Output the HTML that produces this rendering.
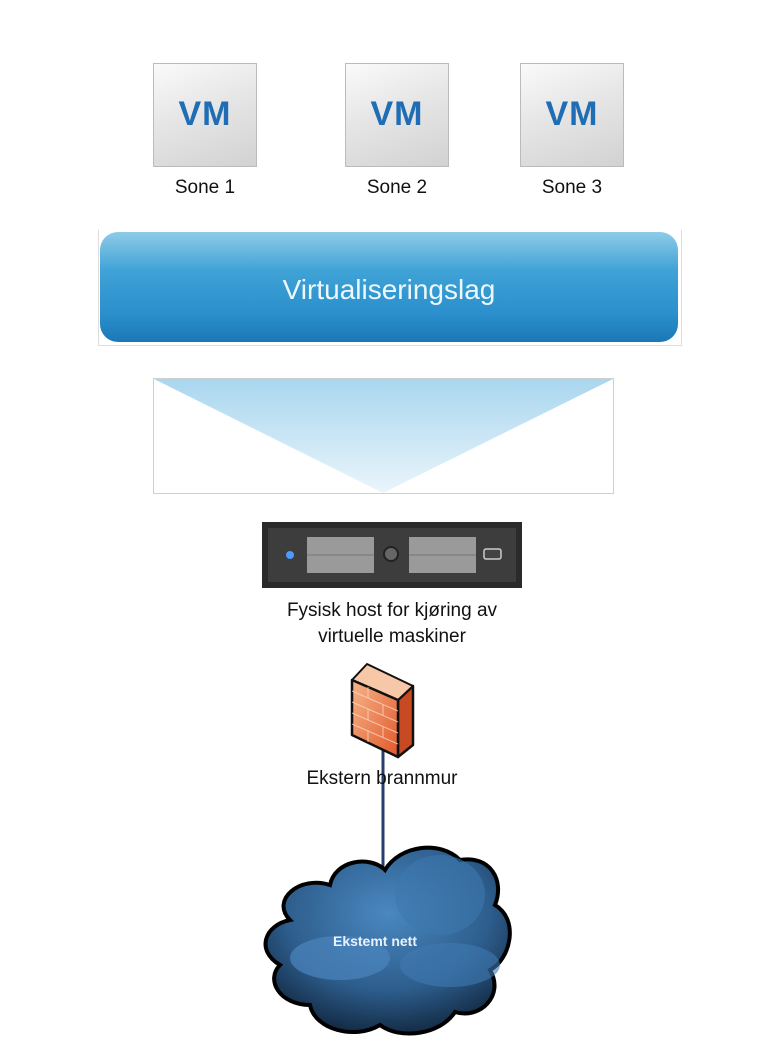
<!DOCTYPE html>
<html><head><meta charset="utf-8"><style>
body{margin:0;width:768px;height:1053px;background:#fff;position:relative;overflow:hidden;font-family:"Liberation Sans",sans-serif}
.vm{position:absolute;top:63px;width:104px;height:104px;background:linear-gradient(160deg,#fafafa 0%,#e6e6e6 45%,#d2d2d2 100%);border:1px solid #bbb;box-sizing:border-box;color:#1f6db5;font-weight:bold;font-size:34px;text-align:center;line-height:100px;letter-spacing:1px}
.lbl{position:absolute;font-size:19px;color:#111;text-align:center}
</style></head><body>
<div class="vm" style="left:153px">VM</div>
<div class="vm" style="left:345px">VM</div>
<div class="vm" style="left:520px">VM</div>
<div class="lbl" style="left:153px;width:104px;top:177px">Sone 1</div>
<div class="lbl" style="left:345px;width:104px;top:177px">Sone 2</div>
<div class="lbl" style="left:520px;width:104px;top:177px">Sone 3</div>

<div style="position:absolute;left:98px;top:230px;width:582px;height:115px;border-right:1px solid #ddd;border-bottom:1px solid #ddd;border-left:1px solid #ddd"></div>
<div style="position:absolute;left:100px;top:232px;width:578px;height:110px;border-radius:18px;background:linear-gradient(#8fcbe8 0%,#3fa3d6 35%,#2a8fcc 75%,#1a78b5 100%);color:#eef7fc;font-size:28px;text-align:center;line-height:116px">Virtualiseringslag</div>

<svg style="position:absolute;left:0;top:0" width="768" height="1053">
<defs>
<linearGradient id="tri" x1="0" y1="0" x2="0" y2="1"><stop offset="0" stop-color="#a9d6ef"/><stop offset="1" stop-color="#eaf5fb"/></linearGradient>
<linearGradient id="fw" x1="0" y1="0" x2="1" y2="1"><stop offset="0" stop-color="#f7b58a"/><stop offset="1" stop-color="#e0582a"/></linearGradient>
<radialGradient id="cl" cx="0.5" cy="0.35" r="0.7"><stop offset="0" stop-color="#4a88c0"/><stop offset="0.6" stop-color="#2d5d8c"/><stop offset="1" stop-color="#0f2238"/></radialGradient>
</defs>
<rect x="153.5" y="378.5" width="460" height="115" fill="#fff" stroke="#d0d0d0"/>
<polygon points="154,379 613,379 383,493" fill="url(#tri)"/>
<!-- server -->
<rect x="262" y="522" width="260" height="66" fill="#2a2a2a"/>
<rect x="268" y="528" width="248" height="54" fill="#3d3d3d"/>
<circle cx="290" cy="555" r="4" fill="#4a9bff"/>
<rect x="307" y="537" width="67" height="36" fill="#9a9a9a"/><line x1="307" y1="555" x2="374" y2="555" stroke="#777"/>
<rect x="409" y="537" width="67" height="36" fill="#9a9a9a"/><line x1="409" y1="555" x2="476" y2="555" stroke="#777"/>
<circle cx="391" cy="554" r="7" fill="#666" stroke="#222" stroke-width="2"/>
<rect x="484" y="549" width="17" height="10" rx="2" fill="#444" stroke="#ccc" stroke-width="1.5"/>
<!-- line -->
<line x1="383" y1="750" x2="383" y2="875" stroke="#243f6b" stroke-width="3"/>
<!-- firewall -->
<polygon points="398,700 413,686 413,745 398,757" fill="#c84a22" stroke="#111" stroke-width="2.5" stroke-linejoin="round"/>
<polygon points="352,680 367,664 413,686 398,700" fill="#f6c8a8" stroke="#111" stroke-width="2" stroke-linejoin="round"/>
<polygon points="352,680 398,700 398,757 352,735" fill="url(#fw)" stroke="#111" stroke-width="2.5" stroke-linejoin="round"/>
<g stroke="#fbd7c0" stroke-width="1" opacity="0.8">
<line x1="352" y1="691" x2="398" y2="711"/><line x1="352" y1="702" x2="398" y2="722"/><line x1="352" y1="713" x2="398" y2="733"/><line x1="352" y1="724" x2="398" y2="744"/>
<line x1="368" y1="687" x2="368" y2="698"/><line x1="383" y1="705" x2="383" y2="716"/><line x1="368" y1="709" x2="368" y2="720"/><line x1="383" y1="727" x2="383" y2="738"/><line x1="368" y1="731" x2="368" y2="742"/>
</g>
<!-- cloud -->
<path d="M290,920 C270,900 300,875 330,885 C335,860 370,855 385,870 C400,845 440,840 460,860 C490,855 505,880 495,905 C520,920 510,960 490,970 C505,995 480,1020 455,1012 C440,1035 400,1040 380,1025 C355,1040 315,1030 310,1005 C280,1005 265,980 280,965 C255,950 265,925 290,920 Z" fill="url(#cl)" stroke="#000" stroke-width="4"/>
<ellipse cx="340" cy="958" rx="50" ry="22" fill="#4b86bd" opacity="0.7"/>
<ellipse cx="440" cy="895" rx="45" ry="40" fill="#3e78ae" opacity="0.6"/>
<ellipse cx="450" cy="965" rx="50" ry="22" fill="#3f7ab2" opacity="0.6"/>
<text x="375" y="946" font-family="Liberation Sans,sans-serif" font-weight="bold" font-size="14" fill="#e8f2fb" text-anchor="middle">Ekstemt nett</text>
</svg>

<div class="lbl" style="left:242px;width:300px;top:598px;line-height:26px">Fysisk host for kjøring av<br>virtuelle maskiner</div>
<div class="lbl" style="left:232px;width:300px;top:768px">Ekstern brannmur</div>
</body></html>
